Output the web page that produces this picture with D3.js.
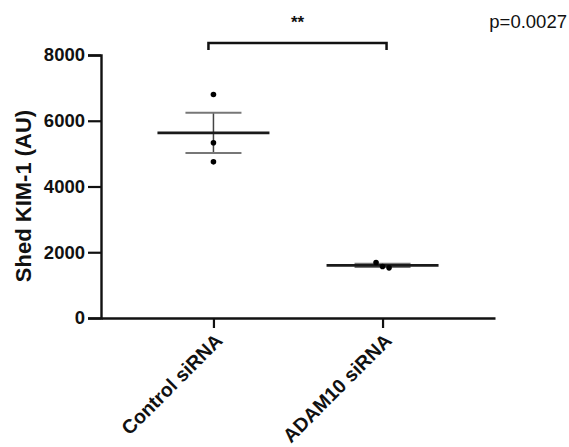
<!DOCTYPE html>
<html>
<head>
<meta charset="utf-8">
<script src="https://cdn.jsdelivr.net/npm/d3@7"></script>
<style>
  body { margin: 0; background: #fff; }
  svg text { font-family: "Liberation Sans", Arial, sans-serif; }
</style>
</head>
<body>
<div id="chart"></div>
<script>
// Data
const groups = ["Control siRNA", "ADAM10 siRNA"];
const replicates = [[6800, 5330, 4750], [1690, 1565, 1525]];
const means = [5630, 1600];
const sems = [610, 50];
const yTicks = [0, 2000, 4000, 6000, 8000];
const pText = "p=0.0027";
const starText = "**";

const width = 569, height = 447;

const svg = d3.select("#chart").append("svg")
    .attr("width", width)
    .attr("height", height);

// Scales
const x = d3.scalePoint().domain(groups).range([101, 495]).padding(0.665);
const y = d3.scaleLinear().domain([0, 8000]).range([318, 55]);

// Y axis
const yAxis = svg.append("g")
    .attr("transform", "translate(101,0)")
    .call(d3.axisLeft(y).tickValues(yTicks).tickFormat(d3.format("d")).tickSize(13).tickPadding(3));
yAxis.select(".domain").attr("stroke", "#111").attr("stroke-width", 2.4);
yAxis.selectAll(".tick line").attr("stroke", "#111").attr("stroke-width", 2.2);
yAxis.selectAll(".tick text")
    .attr("fill", "#111")
    .style("font-size", "18.5px")
    .style("font-weight", "bold");

// X axis
const xAxis = svg.append("g")
    .attr("transform", "translate(0,318)")
    .call(d3.axisBottom(x).tickSize(10).tickSizeOuter(0));
xAxis.select(".domain").attr("stroke", "#111").attr("stroke-width", 2.4);
xAxis.selectAll(".tick line").attr("stroke", "#111").attr("stroke-width", 2.2);
xAxis.selectAll(".tick text")
    .attr("fill", "#111")
    .style("font-size", "19.5px")
    .style("font-weight", "bold")
    .attr("text-anchor", "end")
    .attr("dy", "0.35em")
    .attr("transform", "translate(5,19) rotate(-45)")
    .attr("y", 0)
    .attr("x", 0);

// Y label
svg.append("text")
    .attr("transform", "translate(23,196) rotate(-90)")
    .attr("text-anchor", "middle")
    .attr("dy", "0.35em")
    .style("font-size", "22px")
    .style("font-weight", "bold")
    .attr("fill", "#111")
    .text("Shed KIM-1 (AU)");

// Error bars (SEM)
const plot = svg.append("g");
groups.forEach((g, i) => {
    const cx = x(g);
    plot.append("line")
        .attr("x1", cx).attr("x2", cx)
        .attr("y1", y(means[i] + sems[i])).attr("y2", y(means[i] - sems[i]))
        .attr("stroke", "#444").attr("stroke-width", 1.5);
    [means[i] + sems[i], means[i] - sems[i]].forEach(v => {
        plot.append("line")
            .attr("x1", cx - 28).attr("x2", cx + 28)
            .attr("y1", y(v)).attr("y2", y(v))
            .attr("stroke", "#777").attr("stroke-width", 2);
    });
    // mean line
    plot.append("line")
        .attr("x1", cx - 56).attr("x2", cx + 56)
        .attr("y1", y(means[i])).attr("y2", y(means[i]))
        .attr("stroke", "#1a1a1a").attr("stroke-width", 2.8);
});

// Replicate points (small horizontal spread where points overlap)
groups.forEach((g, i) => {
    const spread = i === 0 ? 0 : 6.5;
    plot.selectAll(null)
        .data(replicates[i])
        .enter()
        .append("circle")
        .attr("cx", (d, j) => x(g) + (j - 1) * spread)
        .attr("cy", d => y(d))
        .attr("r", 2.8)
        .attr("fill", "#000");
});

// Significance bracket
const bx1 = x(groups[0]) - 5, bx2 = x(groups[1]) + 4, by = 43;
svg.append("path")
    .attr("d", `M${bx1},${by + 7}V${by}H${bx2}V${by + 7}`)
    .attr("fill", "none")
    .attr("stroke", "#111")
    .attr("stroke-width", 2.5);

svg.append("text")
    .attr("x", (bx1 + bx2) / 2)
    .attr("y", 28)
    .attr("text-anchor", "middle")
    .style("font-size", "17px")
    .style("font-weight", "bold")
    .attr("fill", "#111")
    .text(starText);

svg.append("text")
    .attr("x", 567)
    .attr("y", 28)
    .attr("text-anchor", "end")
    .style("font-size", "18.5px")
    .attr("fill", "#111")
    .text(pText);
</script>
</body>
</html>
